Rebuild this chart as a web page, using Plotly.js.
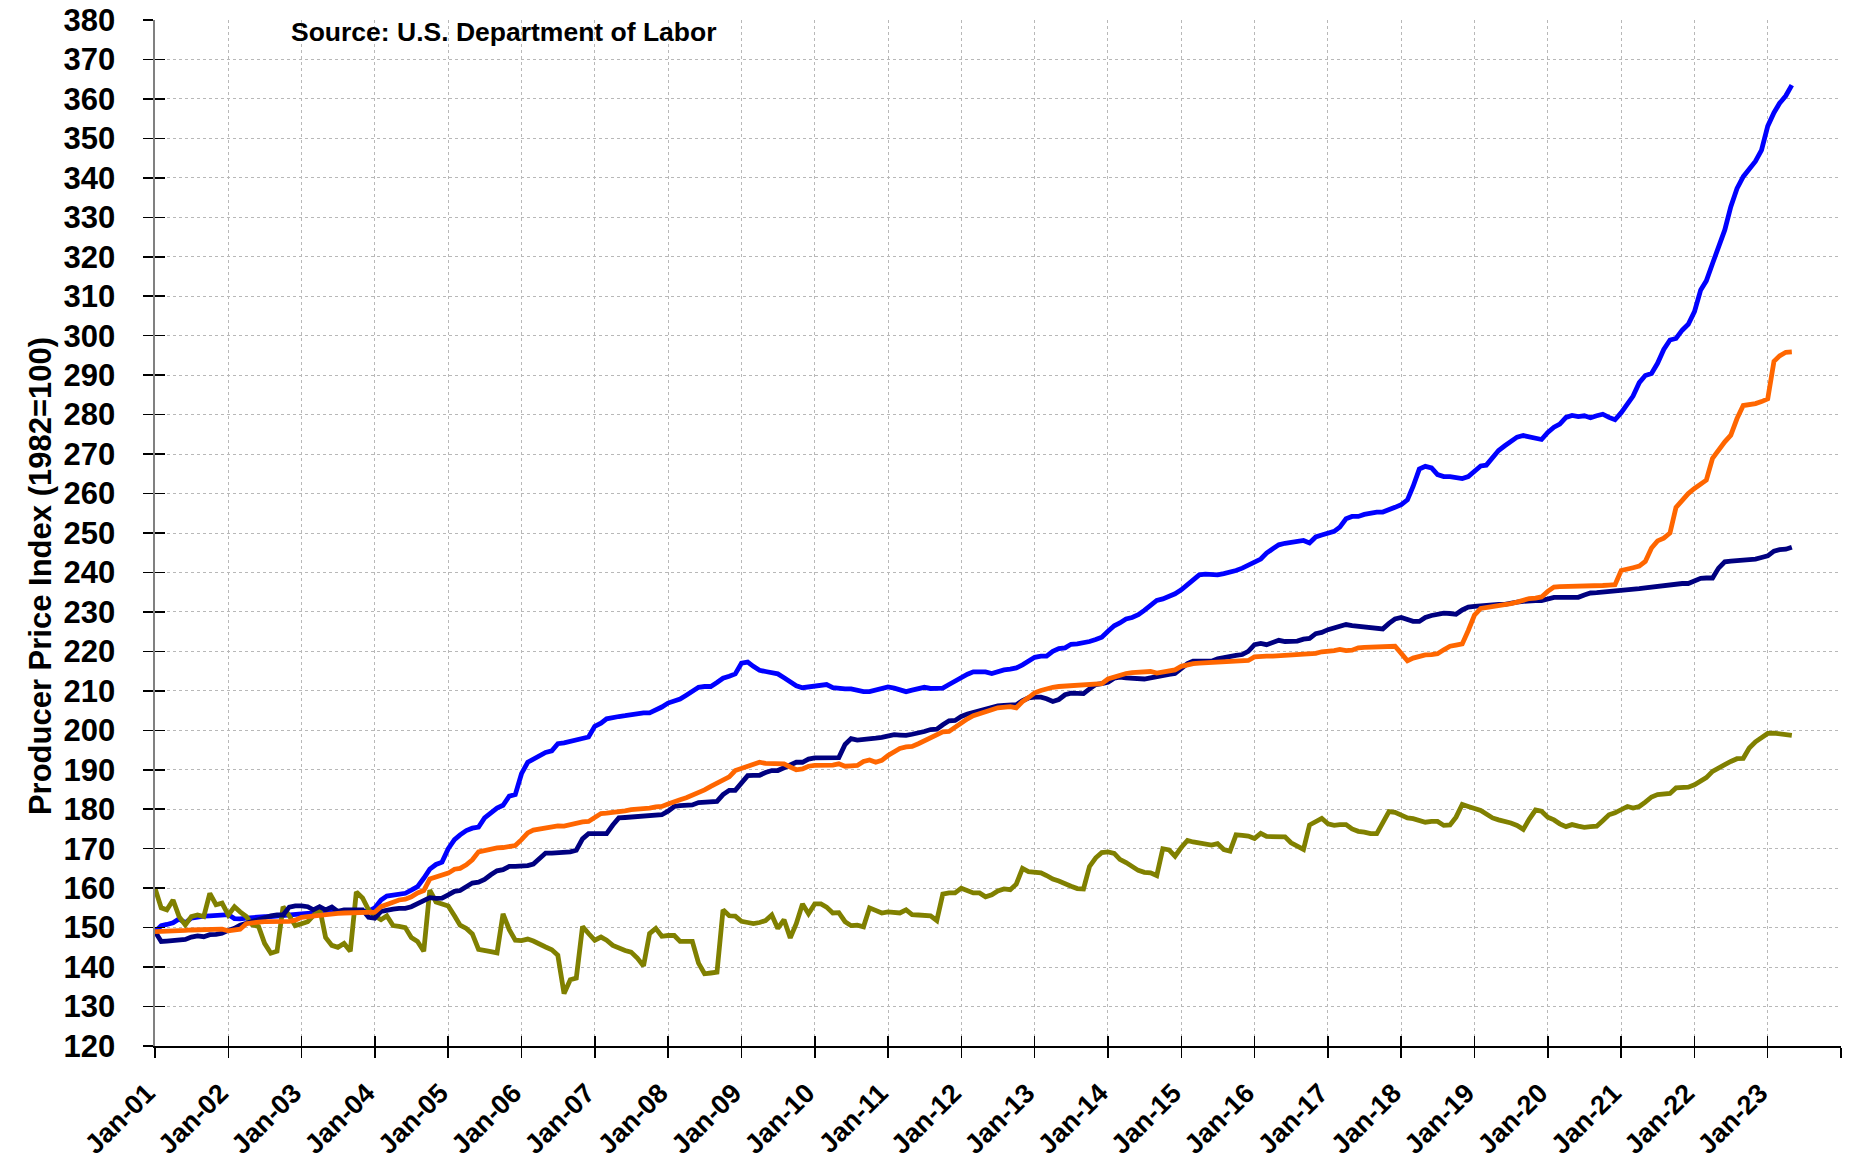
<!DOCTYPE html>
<html>
<head>
<meta charset="utf-8">
<script src="https://cdn.plot.ly/plotly-3.0.1.min.js"></script>
<style>
  html, body { margin: 0; padding: 0; background: #ffffff; }
  #chart { width: 1850px; height: 1163px; }
</style>
</head>
<body>
<div id="chart"></div>
<script>
// Monthly series, January 2001 through May 2023
const startYear = 2001;

const seriesBlue = [
  149.0, 150.5, 150.8, 151.2, 152.2, 151.2, 152.4, 152.8, 152.9, 153.0, 153.1, 153.2,
  153.3, 152.3, 152.2, 152.4, 152.6, 152.7, 152.8, 152.8, 153.0, 153.1, 153.3, 153.4,
  153.5, 153.6, 153.7, 153.7, 153.8, 153.9, 154.0, 154.0, 154.1, 154.1, 154.1, 154.2,
  155.0, 157.0, 158.0, 158.2, 158.4, 158.7, 159.5, 160.4, 162.5, 164.8, 166.0, 166.6,
  170.0, 172.3, 173.5, 174.6, 175.2, 175.5, 177.8, 179.0, 180.3, 181.0, 183.3, 183.7,
  189.0, 191.9, 192.7, 193.8, 194.4, 194.8, 196.6, 196.8, 197.2, 197.4, 198.0, 198.3,
  201.0, 201.8, 202.9, 203.3, 203.5, 203.7, 204.0, 204.2, 204.4, 204.4, 205.0, 205.9,
  206.9, 207.3, 207.9, 208.9, 210.0, 210.9, 211.1, 211.1, 212.1, 213.2, 213.7, 214.3,
  217.0, 217.3, 216.2, 215.2, 214.9, 214.7, 214.3, 213.3, 212.3, 211.3, 210.8, 211.0,
  211.2, 211.4, 211.6, 210.8, 210.6, 210.5, 210.5, 210.0, 209.8, 209.8, 210.3, 210.6,
  211.0, 210.7, 210.3, 209.8, 210.2, 210.7, 210.9, 210.6, 210.5, 210.7, 211.6, 212.5,
  213.4, 214.2, 214.8, 214.8, 214.8, 214.4, 214.9, 215.3, 215.5, 215.8, 216.6, 217.7,
  218.5, 218.8, 218.8, 220.0, 220.7, 220.9, 221.8, 221.9, 222.1, 222.5, 223.0, 223.6,
  225.1, 226.5, 227.2, 228.2, 228.6, 229.3, 230.4, 231.8, 232.9, 233.3, 233.8, 234.6,
  235.6, 236.9, 237.8, 239.4, 239.6, 239.4, 239.4, 239.7, 240.0, 240.5, 241.1, 241.7,
  242.6, 243.4, 244.9, 246.0, 247.0, 247.4, 247.6, 248.0, 248.1, 247.5, 249.0, 249.5,
  249.8, 250.4, 251.5, 253.6, 254.2, 254.2, 254.7, 255.1, 255.3, 255.3, 255.8, 256.5,
  257.2, 258.4, 261.8, 266.2, 266.9, 266.5, 264.8, 264.3, 264.3, 264.1, 263.8, 264.3,
  265.6, 267.0, 267.2, 269.2, 270.9, 272.1, 273.2, 274.3, 274.7, 274.3, 274.0, 273.7,
  275.5, 276.8, 277.6, 279.3, 279.8, 279.5, 279.7, 279.2, 279.7, 280.1, 279.3, 278.7,
  280.5, 283.0, 284.7, 288.1, 289.9, 290.4, 293.0, 296.5, 298.9, 299.3, 301.4, 302.9,
  306.1, 311.6, 313.9, 318.3, 322.5, 326.8, 332.7, 337.3, 340.3, 342.1, 344.2, 347.0,
  353.1, 356.5, 358.9, 360.8, 363.5
];

const seriesNavy = [
  149.0, 146.5, 146.6, 146.7, 146.9, 147.0, 147.6, 147.9, 147.7, 148.2, 148.3, 148.6,
  149.3, 149.8, 150.6, 151.1, 151.8, 152.2, 152.6, 153.0, 153.2, 153.2, 155.2, 155.5,
  155.5, 155.3, 154.5, 155.3, 154.5, 155.2, 154.1, 154.5, 154.5, 154.5, 154.5, 152.6,
  152.4, 154.1, 154.5, 154.7, 154.9, 154.9, 155.3, 156.0, 157.0, 157.6, 157.4, 157.5,
  158.3, 159.2, 159.4, 160.5, 161.3, 161.5, 162.2, 163.4, 164.4, 164.7, 165.5, 165.5,
  165.5, 165.7, 166.1, 167.5, 168.9, 168.9, 168.9, 168.9, 169.2, 169.6, 172.5, 173.8,
  173.8, 173.8, 173.8, 176.0, 177.8, 177.9, 178.0, 178.2, 178.2, 178.4, 178.5, 178.6,
  179.5, 180.7, 180.9, 181.0, 181.1, 181.7, 181.8, 181.8, 182.0, 183.7, 184.8, 184.8,
  186.5, 188.5, 188.6, 188.6, 189.3, 189.8, 189.8, 190.4, 191.3, 191.9, 191.9, 192.7,
  193.0, 193.0, 193.0, 193.0, 193.1, 196.4, 197.9, 197.5, 197.6, 197.8, 198.0, 198.2,
  198.7, 198.9, 198.8, 198.7, 199.0, 199.2, 199.7, 200.2, 200.3, 201.4, 202.4, 202.5,
  203.5, 204.1, 204.5, 204.8, 205.4, 205.9, 206.2, 206.3, 206.3, 206.5, 207.5, 208.2,
  208.4, 208.4, 208.0, 207.3, 207.8, 209.0, 209.4, 209.5, 209.3, 210.5, 211.6, 211.8,
  212.2, 213.2, 213.5, 213.3, 213.1, 213.0, 213.0, 213.3, 213.7, 213.9, 214.2, 214.4,
  215.8, 216.9, 217.5, 217.5, 217.5, 217.5, 218.1, 218.5, 218.8, 219.0, 219.2, 220.0,
  221.7, 222.0, 221.7, 222.3, 222.8, 222.5, 222.5, 222.6, 223.1, 223.3, 224.5, 224.8,
  225.5, 226.0, 226.3, 226.8, 226.5, 226.3, 226.1, 226.0, 225.9, 225.7, 227.1, 228.2,
  228.6, 228.2, 227.6, 227.6, 228.6, 229.1, 229.4, 229.7, 229.6, 229.4, 230.5, 231.2,
  231.4, 231.6, 231.8, 231.9, 231.9, 231.9, 232.3, 232.5, 232.7, 232.9, 232.9, 232.9,
  233.3, 233.7, 233.7, 233.7, 233.7, 233.7, 234.3, 234.8, 234.9, 235.0, 235.2, 235.3,
  235.5, 235.6, 235.7, 235.9, 236.1, 236.3, 236.5, 236.7, 237.0, 237.1, 237.2, 237.2,
  237.9, 238.5, 238.6, 238.6, 241.1, 242.7, 242.9, 243.0, 243.2, 243.3, 243.4, 243.8,
  244.2, 245.4, 245.8, 245.9, 246.4
];

const seriesOrange = [
  149.0, 149.0, 149.1, 149.1, 149.2, 149.3, 149.4, 149.4, 149.5, 149.5, 149.7, 149.6,
  149.2, 149.3, 149.6, 151.0, 151.3, 151.4, 151.5, 151.5, 151.5, 151.6, 151.6, 151.9,
  152.6, 152.8, 153.0, 153.2, 153.4, 153.6, 153.6, 153.7, 153.7, 153.7, 153.8, 153.8,
  153.9, 155.3, 155.8, 156.6, 157.0, 157.2, 157.8, 158.8, 159.4, 162.3, 162.8, 163.0,
  163.8, 164.8, 165.0, 165.9, 167.2, 169.2, 169.6, 170.0, 170.2, 170.3, 170.4, 170.8,
  172.3, 174.0, 174.7, 175.0, 175.2, 175.5, 175.8, 175.7, 176.1, 176.5, 176.8, 176.9,
  177.8, 178.9, 179.0, 179.1, 179.3, 179.6, 179.9, 180.0, 179.9, 180.3, 180.6, 180.7,
  181.3, 182.0, 182.4, 182.9, 183.5, 184.1, 184.9, 185.8, 186.6, 187.2, 188.2, 189.8,
  190.3, 191.0, 191.5, 191.9, 191.6, 191.6, 191.7, 191.5, 190.7, 190.0, 190.2, 190.9,
  191.1, 191.1, 191.1, 191.2, 191.5, 190.9, 191.0, 191.1, 192.1, 192.5, 191.9, 192.4,
  193.6, 194.4, 195.4, 195.8, 195.9, 196.6, 197.4, 198.0, 198.9, 199.6, 199.7, 200.8,
  201.8, 202.9, 203.7, 204.3, 204.8, 205.2, 205.7, 206.0, 206.0, 205.7, 207.3, 208.3,
  209.5, 210.1, 210.6, 210.9, 211.1, 211.2, 211.4, 211.5, 211.5, 211.6, 211.7, 211.8,
  213.0, 213.5, 213.9, 214.4, 214.6, 214.7, 214.9, 214.9, 214.5, 214.8, 214.9, 215.3,
  216.2, 216.7, 216.9, 217.0, 217.1, 217.1, 217.3, 217.6, 217.7, 217.7, 217.7, 217.7,
  218.6, 218.8, 218.8, 218.8, 218.9, 219.0, 219.1, 219.2, 219.2, 219.2, 219.5, 219.9,
  220.0, 220.2, 220.5, 220.2, 220.3, 220.9, 221.0, 221.0, 221.0, 221.0, 221.1, 221.3,
  219.5, 217.6, 218.3, 218.8, 219.1, 219.2, 219.4, 220.4, 221.3, 221.6, 221.9, 225.3,
  229.2, 230.9, 231.1, 231.3, 231.5, 231.8, 232.1, 232.5, 233.0, 233.4, 233.5, 233.8,
  235.2, 236.3, 236.4, 236.4, 236.4, 236.5, 236.5, 236.6, 236.6, 236.7, 236.8, 236.9,
  240.5, 241.0, 241.2, 241.6, 242.8, 246.2, 248.0, 248.7, 250.0, 256.5, 258.3, 260.0,
  261.3, 262.4, 263.4, 268.9, 271.2, 273.1, 274.8, 279.0, 282.3, 282.5, 282.8, 283.3,
  284.0, 293.5, 294.9, 295.8, 295.9
];

const seriesOlive = [
  160.0, 155.0, 154.5, 157.0, 152.8, 150.7, 152.8, 153.2, 152.8, 158.7, 155.8, 156.2,
  153.2, 155.3, 154.0, 152.8, 150.7, 150.3, 146.0, 143.5, 144.0, 155.3, 153.0, 150.5,
  151.0, 151.5, 153.0, 155.0, 147.5, 145.5, 145.0, 146.0, 144.0, 159.0, 157.5, 154.5,
  153.0, 152.0, 153.0, 150.5, 150.3, 150.0, 147.5, 146.5, 144.0, 159.5, 156.5, 156.0,
  155.5, 153.0, 150.6, 149.8, 148.4, 144.5, 144.1, 143.9, 143.6, 153.5, 149.5, 146.8,
  146.7, 147.1, 146.6, 145.7, 145.1, 144.4, 143.0, 133.3, 136.8, 137.2, 150.3, 148.5,
  146.8, 147.6, 146.8, 145.5, 144.8, 144.2, 143.8, 142.3, 140.3, 148.5, 149.8, 147.8,
  148.0, 148.0, 146.5, 146.5, 146.5, 141.0, 138.3, 138.5, 138.7, 154.5, 153.0, 152.9,
  151.6, 151.3, 151.0, 151.3, 151.8, 153.2, 149.8, 152.0, 147.4, 151.0, 156.0, 153.5,
  156.0, 156.0, 155.2, 153.7, 153.8, 151.5, 150.5, 150.6, 150.2, 155.0, 154.5, 153.7,
  154.0, 154.0, 153.7, 154.5, 153.3, 153.2, 153.1, 153.0, 151.8, 158.5, 158.8, 158.8,
  160.0, 159.5, 158.8, 158.8, 157.8, 158.3, 159.3, 159.8, 159.6, 161.0, 165.0, 164.2,
  164.2, 163.9, 163.2, 162.3, 161.8, 161.3, 160.5, 159.9, 159.8, 165.5, 167.7, 169.0,
  169.2, 168.8, 167.3, 166.5, 165.5, 164.5, 164.0, 163.9, 163.2, 170.0, 169.7, 168.1,
  170.3, 172.1, 171.7, 171.4, 171.2, 170.9, 171.3, 169.8, 169.4, 173.5, 173.4, 173.2,
  172.6, 173.9, 173.1, 173.0, 172.8, 173.0, 171.5, 170.6, 169.8, 176.0, 176.7, 177.7,
  176.3, 175.9, 176.1, 176.1, 175.0, 174.4, 174.2, 173.8, 173.8, 176.5, 179.4, 179.2,
  178.6, 177.8, 177.6, 177.3, 176.7, 176.9, 176.9, 175.9, 176.0, 178.0, 181.2, 180.7,
  180.2, 179.7, 178.8, 177.8, 177.3, 177.0, 176.5, 175.9, 174.9, 177.5, 179.8, 179.5,
  178.0, 177.3, 176.3, 175.6, 176.1, 175.7, 175.4, 175.6, 175.7, 177.1, 178.6, 179.1,
  180.0, 180.7, 180.3, 180.7, 181.8, 183.1, 183.7, 183.7, 184.0, 185.4, 185.6, 185.6,
  186.2, 187.2, 188.0, 189.6, 190.6, 191.3, 192.1, 192.8, 192.9, 195.5, 197.1, 198.3,
  199.2, 199.3, 199.2, 198.9, 198.7
];

const tickLabels = [
  'Jan-01','Jan-02','Jan-03','Jan-04','Jan-05','Jan-06','Jan-07','Jan-08',
  'Jan-09','Jan-10','Jan-11','Jan-12','Jan-13','Jan-14','Jan-15','Jan-16',
  'Jan-17','Jan-18','Jan-19','Jan-20','Jan-21','Jan-22','Jan-23'
];

const yAxisTitle = 'Producer Price Index (1982=100)';
const sourceNote = 'Source: U.S. Department of Labor';

// month dates
function pad(n) { return (n < 10 ? '0' : '') + n; }
const months = seriesBlue.map((_, i) => {
  const y = startYear + Math.floor(i / 12);
  const m = (i % 12) + 1;
  return y + '-' + pad(m) + '-01';
});
const tickVals = [];
const tickText = [];
for (let k = 0; k <= tickLabels.length; k++) {
  tickVals.push((startYear + k) + '-01-01');
  tickText.push(k < tickLabels.length ? tickLabels[k] : '');
}
const xRange = [startYear + '-01-01', (startYear + tickLabels.length) + '-01-01'];
const yRange = [120, 380];

const FONT = 'Liberation Sans, Arial, Helvetica, sans-serif';

function lineTrace(vals, color, name) {
  return {
    x: months, y: vals, type: 'scatter', mode: 'lines', name: name,
    line: { color: color, width: 4.8, shape: 'linear' },
    hoverinfo: 'x+y', showlegend: false
  };
}

const traces = [
  lineTrace(seriesBlue, '#0000FF', 'Series 1'),
  lineTrace(seriesOlive, '#808000', 'Series 4'),
  lineTrace(seriesNavy, '#000080', 'Series 3'),
  lineTrace(seriesOrange, '#FF6600', 'Series 2'),
  { x: [], y: [], xaxis: 'x2', yaxis: 'y2', type: 'scatter', mode: 'lines',
    showlegend: false, hoverinfo: 'skip' }
];

const xTickFont = { family: FONT, size: 27, color: '#000000', weight: 'bold' };
const yTickFont = { family: FONT, size: 31, color: '#000000', weight: 'bold' };

const layout = {
  width: 1850, height: 1163,
  margin: { l: 155, r: 9, t: 20, b: 117, pad: 0 },
  paper_bgcolor: '#ffffff', plot_bgcolor: '#ffffff',
  showlegend: false,
  xaxis: {
    type: 'date', range: xRange, tickmode: 'array',
    tickvals: tickVals, ticktext: tickText, tickangle: -45,
    tickfont: xTickFont,
    showgrid: true, gridcolor: '#b8b8b8', gridwidth: 1, griddash: 'dot',
    showline: true, linecolor: '#000000', linewidth: 1.5,
    ticks: 'outside', ticklen: 10, tickwidth: 1.5, tickcolor: '#000000',
    zeroline: false, fixedrange: true, ticklabelstandoff: 9, ticklabelshift: -8
  },
  yaxis: {
    range: yRange, tick0: 120, dtick: 10,
    tickfont: yTickFont,
    showgrid: true, gridcolor: '#b8b8b8', gridwidth: 1, griddash: 'dot',
    showline: true, linecolor: '#808080', linewidth: 2.5,
    ticks: 'outside', ticklen: 10, tickwidth: 1.5, tickcolor: '#000000',
    zeroline: false, fixedrange: true, ticklabelstandoff: 21
  },
  xaxis2: {
    type: 'date', range: xRange, overlaying: 'x', anchor: 'y2', side: 'bottom',
    tickmode: 'array', tickvals: tickVals, showticklabels: false,
    showgrid: false, showline: false, zeroline: false,
    ticks: 'inside', ticklen: 10, tickwidth: 1.5, tickcolor: '#000000', fixedrange: true
  },
  yaxis2: {
    range: yRange, tick0: 120, dtick: 10, overlaying: 'y', anchor: 'x2', side: 'left',
    showticklabels: false, showgrid: false, showline: false, zeroline: false,
    ticks: 'inside', ticklen: 10, tickwidth: 1.5, tickcolor: '#000000', fixedrange: true
  },
  annotations: [
    {
      text: sourceNote, xref: 'paper', yref: 'paper',
      x: 0.0795, y: 0.988, xanchor: 'left', yanchor: 'middle', showarrow: false,
      font: { family: FONT, size: 26.5, color: '#000000', weight: 'bold' }
    },
    {
      text: yAxisTitle, xref: 'paper', yref: 'paper',
      x: -0.0682, y: 0.458, xanchor: 'center', yanchor: 'middle', showarrow: false,
      textangle: -90,
      font: { family: FONT, size: 31, color: '#000000', weight: 'bold' }
    }
  ]
};

Plotly.newPlot('chart', traces, layout, { displayModeBar: false, staticPlot: true });
</script>
</body>
</html>
